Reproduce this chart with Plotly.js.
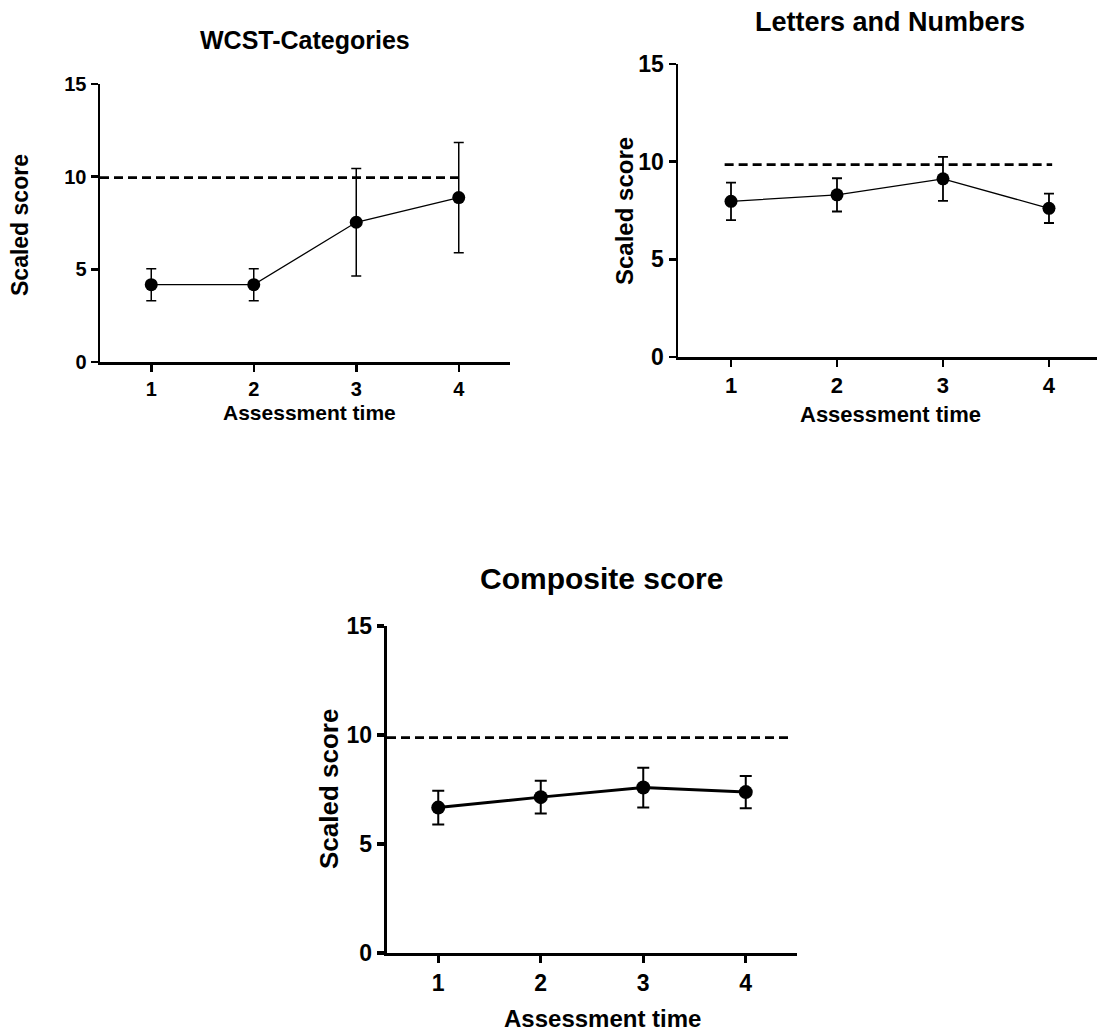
<!DOCTYPE html>
<html>
<head>
<meta charset="utf-8">
<script src="https://cdn.plot.ly/plotly-3.0.1.min.js"></script>
<style>html,body{margin:0;padding:0;background:#fff;}#chart{width:1097px;height:1033px;}</style>
</head>
<body>
<div id="chart"></div>
<script>
// ---- data ----
const assessmentTimes = [1, 2, 3, 4];
const wcstMeans = [4.17, 4.17, 7.54, 8.87];
const wcstErrors = [0.86, 0.86, 2.9, 2.98];
const lnMeans = [7.97, 8.30, 9.12, 7.61];
const lnErrors = [0.96, 0.85, 1.13, 0.75];
const compMeans = [6.67, 7.15, 7.59, 7.38];
const compErrors = [0.77, 0.75, 0.91, 0.74];
const referenceLevels = [9.95, 9.85, 9.88];
const referenceSpans = [[0.5, 4.03], [0.94, 4.03], [0.5, 4.46]];
const panelTitles = ["WCST-Categories", "Letters and Numbers", "Composite score"];
const xTitle = "Assessment time";
const yTitle = "Scaled score";
const yTicks = [0, 5, 10, 15];

const FONT = "Liberation Sans, Arial, Helvetica, sans-serif";

function trace(means, errs, xa, ya, lw, ms, ew, ecap) {
  return {
    x: assessmentTimes, y: means, xaxis: xa, yaxis: ya,
    type: 'scatter', mode: 'lines+markers',
    line: {color: '#000', width: lw},
    marker: {color: '#000', size: ms},
    error_y: {type: 'data', array: errs, visible: true, color: '#000', thickness: ew, width: ecap},
    showlegend: false, hoverinfo: 'skip'
  };
}

const data = [
  trace(wcstMeans, wcstErrors, 'x', 'y', 1.3, 13, 1.5, 5),
  trace(lnMeans, lnErrors, 'x2', 'y2', 1.3, 13, 1.8, 5),
  trace(compMeans, compErrors, 'x3', 'y3', 3, 14, 2, 6)
];

function xax(domain, range, fs, lw) {
  return {domain: domain, range: range, showline: true, linecolor: '#000', linewidth: lw,
    ticks: 'outside', ticklen: 7, tickwidth: lw, tickcolor: '#000', tickvals: assessmentTimes,
    showgrid: false, zeroline: false, fixedrange: true,
    tickfont: {family: FONT, size: fs, color: '#000', weight: 'bold'}};
}
function yax(domain, fs, lw, anchor) {
  return {domain: domain, range: [0, 15], showline: true, linecolor: '#000', linewidth: lw,
    ticks: 'outside', ticklen: 7, tickwidth: lw, tickcolor: '#000', tickvals: yTicks,
    showgrid: false, zeroline: false, fixedrange: true, anchor: anchor,
    tickfont: {family: FONT, size: fs, color: '#000', weight: 'bold'}};
}

function ann(text, x, y, size, angle) {
  return {text: text, x: x, y: y, xref: 'paper', yref: 'paper', xanchor: 'center', yanchor: 'middle',
    showarrow: false, textangle: angle || 0,
    font: {family: FONT, size: size, color: '#000', weight: 'bold'}};
}

const shapes = referenceLevels.map((lvl, i) => ({
  type: 'line', xref: i === 0 ? 'x' : 'x' + (i + 1), yref: i === 0 ? 'y' : 'y' + (i + 1),
  x0: referenceSpans[i][0], x1: referenceSpans[i][1], y0: lvl, y1: lvl,
  line: {color: '#000', width: 2.8, dash: '9px,5px'}, layer: 'below'
}));

const layout = {
  width: 1097, height: 1033,
  margin: {l: 0, r: 0, t: 0, b: 0},
  paper_bgcolor: '#fff', plot_bgcolor: '#fff',
  showlegend: false,
  xaxis: Object.assign(xax([100/1097, 510/1097], [0.5, 4.5], 20, 2.5), {anchor: 'y'}),
  yaxis: yax([1 - 362/1033, 1 - 84/1033], 20, 2.5, 'x'),
  xaxis2: Object.assign(xax([678/1097, 1], [0.5, 4.453], 22, 2.5), {anchor: 'y2'}),
  yaxis2: yax([1 - 357/1033, 1 - 64/1033], 23, 2.5, 'x2'),
  xaxis3: Object.assign(xax([387/1097, 797/1097], [0.5, 4.5], 23, 3.3), {anchor: 'y3'}),
  yaxis3: yax([1 - 953/1033, 1 - 626/1033], 23, 3.3, 'x3'),
  shapes: shapes,
  annotations: [
    ann(panelTitles[0], 305/1097, 1 - 40/1033, 25),
    ann(panelTitles[1], 890/1097, 1 - 22/1033, 27),
    ann(panelTitles[2], 601/1097, 1 - 578/1033, 30),
    ann(xTitle, 309/1097, 1 - 412/1033, 21),
    ann(xTitle, 890/1097, 1 - 414/1033, 22),
    ann(xTitle, 602/1097, 1 - 1018/1033, 24),
    ann(yTitle, 20/1097, 1 - 225/1033, 23, -90),
    ann(yTitle, 624/1097, 1 - 211/1033, 24, -90),
    ann(yTitle, 329/1097, 1 - 789/1033, 26, -90)
  ]
};

Plotly.newPlot('chart', data, layout, {staticPlot: true, displayModeBar: false});
</script>
</body>
</html>
